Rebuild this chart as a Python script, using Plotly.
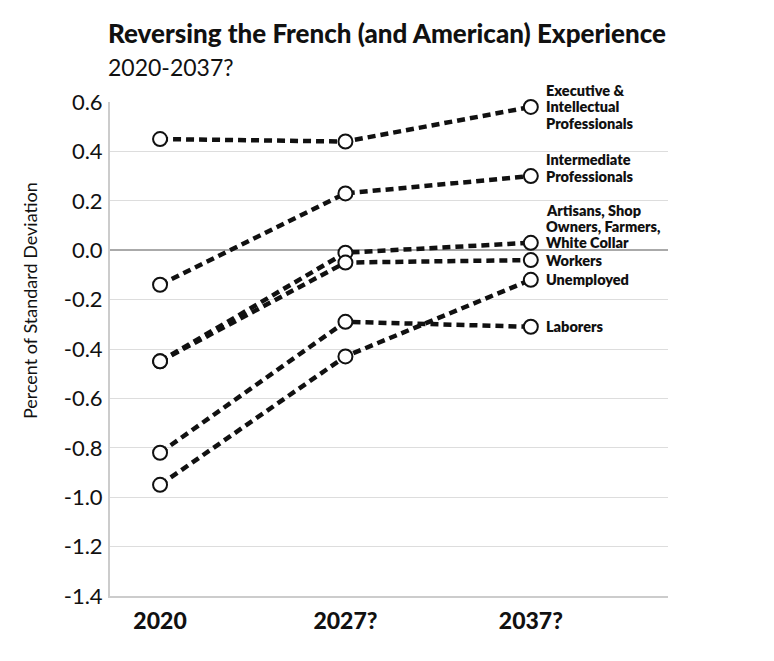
import plotly.graph_objects as go

years = ["2020", "2027?", "2037?"]
series_labels = [
    ["Executive &", "Intellectual", "Professionals"],
    ["Intermediate", "Professionals"],
    ["Artisans, Shop", "Owners, Farmers,", "White Collar"],
    ["Workers"],
    ["Unemployed"],
    ["Laborers"],
]
executive = [0.45, 0.44, 0.58]
intermediate = [-0.14, 0.23, 0.30]
artisans = [-0.45, -0.01, 0.03]
workers = [-0.45, -0.05, -0.04]
unemployed = [-0.95, -0.43, -0.12]
laborers = [-0.82, -0.29, -0.31]
series_values = [executive, intermediate, artisans, workers, unemployed, laborers]
# index of the label line that sits level with the marker
anchor_line = [1, 1, 2, 0, 0, 0]

y_ticks = [0.6, 0.4, 0.2, 0.0, -0.2, -0.4, -0.6, -0.8, -1.0, -1.2, -1.4]

FONT = "Lato"
LINE_H = 16.3

fig = go.Figure()
for vals in series_values:
    fig.add_trace(go.Scatter(
        x=years, y=vals, mode="lines+markers", cliponaxis=False,
        line=dict(color="#111111", width=4.5, dash="8px,5px"),
        marker=dict(size=14, color="white", line=dict(color="#111111", width=2)),
        showlegend=False, hoverinfo="skip",
    ))

for lines, vals, a in zip(series_labels, series_values, anchor_line):
    for i, line in enumerate(lines):
        fig.add_annotation(
            x=years[-1], y=vals[-1], text=line, showarrow=False,
            xanchor="left", yanchor="middle", align="left",
            xshift=13, yshift=(a - i) * LINE_H,
            font=dict(family=FONT, size=14.5, color="#111111", weight=800),
        )

fig.add_annotation(
    x=0, y=1, xref="paper", yref="paper", xanchor="left", yanchor="middle",
    text="Reversing the French (and American) Experience",
    showarrow=False, xshift=-4, yshift=69,
    font=dict(family=FONT, size=26, color="#111111", weight=900),
)
fig.add_annotation(
    x=0, y=1, xref="paper", yref="paper", xanchor="left", yanchor="middle",
    text="2020-2037?", showarrow=False, xshift=-4, yshift=35,
    font=dict(family=FONT, size=23, color="#111111"),
)
fig.add_annotation(
    x=0, y=0.597, xref="paper", yref="paper", xanchor="center", yanchor="middle",
    text="Percent of Standard Deviation", showarrow=False, textangle=-90,
    xshift=-80,
    font=dict(family=FONT, size=18, color="#111111"),
)

fig.update_layout(
    width=766, height=653,
    margin=dict(l=102, r=106, t=94, b=65),
    paper_bgcolor="white", plot_bgcolor="white",
    font=dict(family=FONT, color="#111111"),
    xaxis=dict(
        type="category", range=[-0.27, 2.74],
        showgrid=False, zeroline=False,
        showline=True, linecolor="#cccccc", linewidth=2,
        ticks="", tickfont=dict(family=FONT, size=23, color="#111111", weight=900),
        ticklabelstandoff=3,
    ),
    yaxis=dict(
        range=[-1.4, 0.6], tickvals=y_ticks,
        ticktext=[f"{v:.1f}" for v in y_ticks],
        showgrid=True, gridcolor="#dddddd", gridwidth=1,
        zeroline=True, zerolinecolor="#aaaaaa", zerolinewidth=2,
        showline=True, linecolor="#cccccc", linewidth=2,
        ticks="", ticklabelstandoff=1,
        tickfont=dict(family=FONT, size=22, color="#111111"),
    ),
)

fig.write_html("out.html")
